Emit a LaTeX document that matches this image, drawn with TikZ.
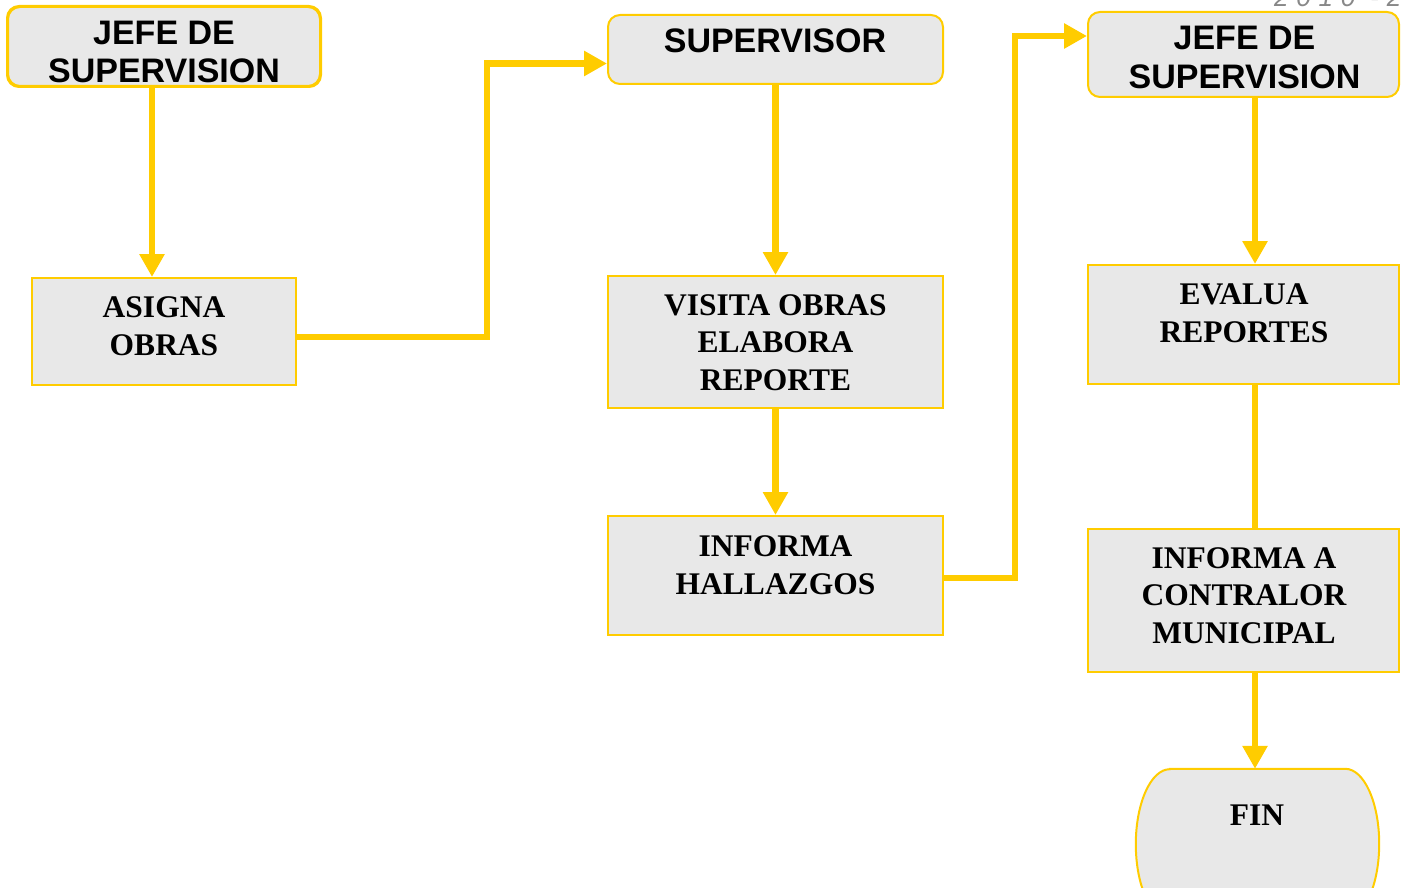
\documentclass[tikz,border=0pt]{standalone}
\usepackage{fontspec}
\setmainfont{Liberation Serif}
\newfontfamily\headfont{Liberation Sans}
\newfontfamily\stampfont[LetterSpace=30]{Liberation Sans}
\usetikzlibrary{arrows.meta,calc}
\definecolor{flowyellow}{HTML}{FFCC00}
\definecolor{boxgray}{HTML}{E8E8E8}
\definecolor{stampgray}{HTML}{888888}

\begin{document}
\begin{tikzpicture}[x=1pt,y=-1pt,
  box/.style={draw=flowyellow, line width=2pt, fill=boxgray, inner sep=0pt},
  roundbox/.style={box, rounded corners=12pt},
  head/.style={font=\headfont\fontsize{34}{38.5}\selectfont\bfseries, align=center, inner sep=0pt},
  body/.style={font=\fontsize{31.5}{37.5}\selectfont\bfseries, align=center, inner sep=0pt},
  conn/.style={draw=flowyellow, line width=6.5pt},
  arr/.style={conn, -{Triangle[width=24pt,length=23pt]}},
]
\useasboundingbox (0,0) rectangle (1403,888);

% year stamp in the upper right corner
\node[font=\stampfont\fontsize{26}{30}\selectfont\itshape, text=stampgray,
      anchor=base west, inner sep=0pt] (stamp) at (1274,7) {2010 -2};

% left column
\node[roundbox, minimum width=312pt, minimum height=79pt] (jefeA) at (164,46.5) {};
\begin{scope}
  \clip (jefeA.south west) rectangle (jefeA.north east);
  \node[head] (jefeAtext) at (164,52) {JEFE DE\\SUPERVISION};
\end{scope}
\draw[draw=flowyellow, line width=2pt, rounded corners=12pt]
  (jefeA.south west) rectangle (jefeA.north east);

\node[box, minimum width=264pt, minimum height=107pt] (asigna) at (164,331.5) {};
\node[body] (asignatext) at (164,326) {ASIGNA\\OBRAS};

% middle column
\node[roundbox, minimum width=335pt, minimum height=69pt] (sup) at (775.5,49.5) {};
\node[head] (suptext) at (775,41) {SUPERVISOR};

\node[box, minimum width=335pt, minimum height=132pt] (visita) at (775.5,342) {};
\node[body] (visitatext) at (775.5,342.5) {VISITA OBRAS\\ELABORA\\REPORTE};

\node[box, minimum width=335pt, minimum height=119pt] (hall) at (775.5,575.5) {};
\node[body] (halltext) at (775.5,565) {INFORMA\\HALLAZGOS};

% right column
\node[roundbox, minimum width=311pt, minimum height=85pt] (jefeB) at (1243.5,54.5) {};
\node[head] (jefeBtext) at (1244.5,57.5) {JEFE DE\\SUPERVISION};

\node[box, minimum width=311pt, minimum height=119pt] (evalua) at (1243.5,324.5) {};
\node[body] (evaluatext) at (1244,313.5) {EVALUA\\REPORTES};

\node[box, minimum width=311pt, minimum height=143pt] (contr) at (1243.5,600.5) {};
\node[body] (contrtext) at (1244,595.5) {INFORMA A\\CONTRALOR\\MUNICIPAL};

% terminal
\node[minimum width=243pt, minimum height=150pt, inner sep=0pt] (fin) at (1257.5,844) {};
\draw[box]
  ([xshift=34pt]fin.north west) -- ([xshift=-34pt]fin.north east)
  arc[start angle=90, end angle=0, x radius=34pt, y radius=75pt]
  arc[start angle=0, end angle=-90, x radius=34pt, y radius=75pt]
  -- ([xshift=34pt]fin.south west)
  arc[start angle=-90, end angle=-180, x radius=34pt, y radius=75pt]
  arc[start angle=180, end angle=90, x radius=34pt, y radius=75pt]
  -- cycle;
\node[body] (fintext) at (1257,815) {FIN};

% connectors
\coordinate (bendA) at (487,63.5);
\coordinate (bendB) at (1015,36);

\draw[arr] ([xshift=-12pt]jefeA.south) -- ([xshift=-12pt]asigna.north);
\draw[arr] ([yshift=-5.5pt]asigna.east) -| (bendA) -- ([yshift=-14pt]sup.west);
\draw[arr] (sup.south) -- (visita.north);
\draw[arr] (visita.south) -- (hall.north);
\draw[arr] ([yshift=-2.5pt]hall.east) -| (bendB) -- ([yshift=18.5pt]jefeB.west);
\draw[arr] ([xshift=11.5pt]jefeB.south) -- ([xshift=11.5pt]evalua.north);
\draw[conn] ([xshift=11.5pt]evalua.south) -- ([xshift=11.5pt]contr.north);
\draw[arr] ([xshift=11.5pt]contr.south) -- ([xshift=11.5pt]contr.south |- fin.north);
\end{tikzpicture}
\end{document}
